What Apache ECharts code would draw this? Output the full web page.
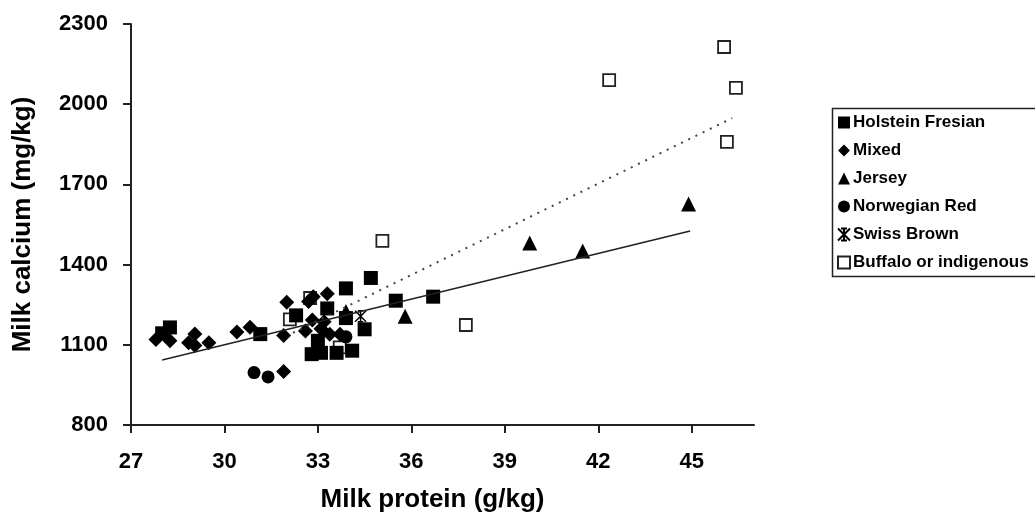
<!DOCTYPE html>
<html>
<head>
<meta charset="utf-8">
<script src="https://cdn.jsdelivr.net/npm/echarts@6/dist/echarts.min.js"></script>
<style>
html,body{margin:0;padding:0;background:#fff;}
#chart{width:1035px;height:524px;}
</style>
</head>
<body>
<div id="chart"></div>
<script>
// ---- data ----
const seriesNames = ['Holstein Fresian','Mixed','Jersey','Norwegian Red','Swiss Brown','Buffalo or indigenous'];
const xTicks = [27,30,33,36,39,42,45];
const yTicks = [800,1100,1400,1700,2000,2300];

const holstein = [[28.0,1143],[28.25,1165],[31.15,1140],[32.3,1210],[32.8,1065],[33.0,1115],[33.1,1070],
  [33.3,1236],[33.6,1070],[33.9,1200],[33.9,1311],[34.1,1078],[34.5,1158],[34.7,1350],[35.5,1265],[36.7,1280]];
const mixed = [[27.8,1120],[28.25,1115],[28.85,1108],[29.05,1140],[29.05,1097],[29.5,1108],[30.4,1148],
  [30.82,1166],[31.9,1135],[31.9,1000],[32.0,1259],[32.7,1262],[32.85,1280],[33.3,1291],[32.82,1193],
  [32.6,1152],[33.2,1186],[33.38,1139],[33.71,1139],[33.1,1160]];
const jersey = [[33.9,1225],[35.8,1207],[39.8,1481],[41.5,1451],[44.9,1627]];
const norwegian = [[30.95,996],[31.4,980],[33.9,1130]];
const swiss = [[34.37,1207]];
const buffalo = [[32.1,1195],[32.75,1275],[33.7,1090],[35.07,1489],[37.75,1174],[42.35,2090],
  [46.04,2214],[46.13,1859],[46.42,2061]];
const trendAll = [[28.0,1043],[44.95,1526]];
const trendBuffalo = [[32.2,1145],[46.3,1948]];

const FONT = "'Liberation Sans',Arial,sans-serif";
const asterisk = 'path://M0,0L10,10M10,0L0,10M5,0L5,10M2.5,0L7.5,0M2.5,10L7.5,10';

function sc(name, data, symbol, size, extra) {
  return Object.assign({
    name: name, type: 'scatter', data: data, symbol: symbol, symbolSize: size,
    itemStyle: {color: '#000', opacity: 1}, z: 3
  }, extra || {});
}

const chart = echarts.init(document.getElementById('chart'), null, {renderer: 'canvas'});
chart.setOption({
  animation: false,
  backgroundColor: '#fff',
  grid: {left: 131, right: 281, top: 24, bottom: 99, outerBoundsMode: 'none', containLabel: false},
  xAxis: {
    type: 'value', min: 27, max: 47, interval: 3,
    name: 'Milk protein (g/kg)', nameLocation: 'middle', nameGap: 62,
    nameTextStyle: {fontFamily: FONT, fontWeight: 'bold', fontSize: 26, color: '#000', padding: [0, 20, 0, 0]},
    axisLine: {lineStyle: {color: '#222', width: 2}},
    axisTick: {show: true, length: 8, lineStyle: {color: '#222', width: 2}, customValues: xTicks},
    axisLabel: {fontFamily: FONT, fontWeight: 'bold', fontSize: 22, color: '#000', margin: 26, customValues: xTicks,
      formatter: v => String(v)},
    splitLine: {show: false}
  },
  yAxis: {
    type: 'value', min: 800, max: 2300, interval: 300,
    name: 'Milk calcium (mg/kg)', nameLocation: 'middle', nameGap: 95, nameRotate: 90,
    nameTextStyle: {fontFamily: FONT, fontWeight: 'bold', fontSize: 26, color: '#000'},
    axisLine: {show: true, lineStyle: {color: '#222', width: 2}},
    axisTick: {show: true, length: 8, lineStyle: {color: '#222', width: 2}, customValues: yTicks},
    axisLabel: {fontFamily: FONT, fontWeight: 'bold', fontSize: 22, color: '#000', margin: 23, customValues: yTicks,
      formatter: v => String(v)},
    splitLine: {show: false}
  },
  legend: {
    orient: 'vertical', left: 837, top: 114, padding: 0, itemGap: 11,
    itemWidth: 12, itemHeight: 12,
    data: seriesNames,
    textStyle: {fontFamily: FONT, fontWeight: 'bold', fontSize: 17, color: '#000', padding: [0,0,0,-2]}
  },
  graphic: [{
    type: 'rect', left: 830, top: 106, silent: true,
    shape: {width: 240, height: 168},
    style: {fill: 'none', stroke: '#222', lineWidth: 1.5}
  }],
  series: [
    sc(seriesNames[5], buffalo, 'rect', 12, {itemStyle: {color: '#fff', borderColor: '#222', borderWidth: 1.8, opacity: 1}, z: 2}),
    sc(seriesNames[0], holstein, 'rect', 14),
    sc(seriesNames[1], mixed, 'diamond', 15),
    sc(seriesNames[2], jersey, 'triangle', 15),
    sc(seriesNames[3], norwegian, 'circle', 13),
    sc(seriesNames[4], swiss, asterisk, 11, {itemStyle: {color: '#000', borderColor: '#000', borderWidth: 1.5, opacity: 1}}),
    {type: 'line', data: trendAll, symbol: 'none', lineStyle: {color: '#222', width: 1.6}, z: 4, silent: true},
    {type: 'line', data: trendBuffalo, symbol: 'none', lineStyle: {color: '#444', width: 2, type: [2, 6]}, z: 4, silent: true}
  ]
});
</script>
</body>
</html>
